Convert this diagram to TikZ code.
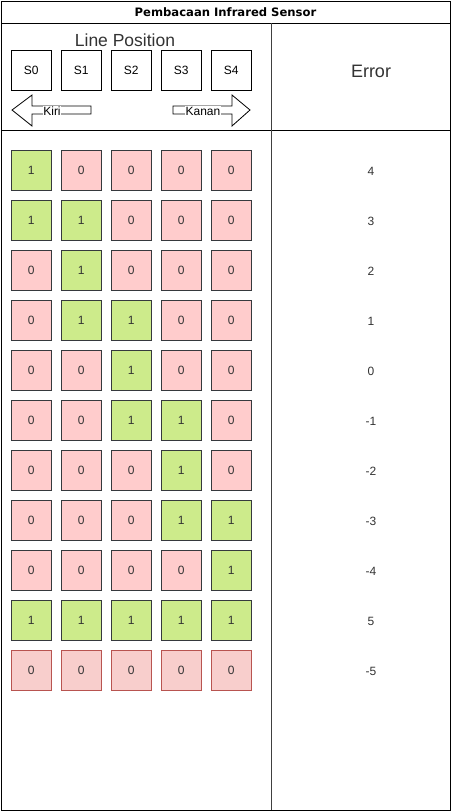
\documentclass[tikz,border=0pt]{standalone}
\usepackage{fontspec}
\setmainfont{Liberation Sans}
\newfontfamily\titlefont{DejaVu Sans}
\definecolor{gfill}{HTML}{CDEB8B}
\definecolor{rfill}{HTML}{FFCCCC}
\definecolor{bdark}{HTML}{36393D}
\definecolor{lfill}{HTML}{F8CECC}
\definecolor{lborder}{HTML}{B85450}
\definecolor{txt}{HTML}{333333}
\begin{document}
\begin{tikzpicture}[x=1pt,y=-1pt,
  cell/.style={draw=bdark,minimum width=40pt,minimum height=40pt,inner sep=0pt,font=\fontsize{12}{14}\selectfont,text=txt,anchor=north west},
  on/.style={cell,fill=gfill},
  off/.style={cell,fill=rfill},
  last/.style={cell,fill=lfill,draw=lborder},
  sens/.style={draw=black,fill=white,minimum width=40pt,minimum height=40pt,inner sep=0pt,font=\fontsize{12}{14}\selectfont,anchor=north west},
  errlbl/.style={font=\fontsize{12}{14}\selectfont,text=txt},
  arrowshape/.style={draw=black,fill=white,line width=0.8pt},
  arrlbl/.style={fill=white,inner sep=0.5pt,font=\fontsize{12}{14}\selectfont}]
\useasboundingbox (0,0) rectangle (452,812);
\fill[white] (0,0) rectangle (452,812);
% outer frame
\draw[line width=1pt] (1,1) rectangle (450,810);
\draw[line width=1pt] (1,23) -- (450,23);
\draw[line width=1pt] (1,130) -- (450,130);
\draw[line width=1pt,draw=black!75] (271,23) -- (271,810);
\node[font=\titlefont\bfseries\fontsize{11.6}{13}\selectfont] (title) at (225.5,12) {Pembacaan Infrared Sensor};
% header
\node[font=\fontsize{17.5}{20}\selectfont,text=txt] (linepos) at (125,40) {Line Position};
\node[font=\fontsize{18}{21}\selectfont,text=txt] (err) at (371,71) {Error};
\foreach \i in {0,...,4}{
  \node[sens] (s\i) at (11+50*\i,50) {S\i};
}
% arrows
\draw[arrowshape] (12,110) -- (32,95) -- (32,106) -- (91,106) -- (91,114) -- (32,114) -- (32,126) -- cycle;
\node[arrlbl] (kiri) at (52,111) {Kiri};
\draw[arrowshape] (250,110) -- (232,95) -- (232,106) -- (173,106) -- (173,114) -- (232,114) -- (232,126) -- cycle;
\node[arrlbl] (kanan) at (203,111) {Kanan};
% rows
\def\rowdata{{1,0,0,0,0},{1,1,0,0,0},{0,1,0,0,0},{0,1,1,0,0},{0,0,1,0,0},{0,0,1,1,0},{0,0,0,1,0},{0,0,0,1,1},{0,0,0,0,1},{1,1,1,1,1}}
\foreach \r/\v in {0/4,1/3,2/2,3/1,4/0,5/-1,6/-2,7/-3,8/-4,9/5}{
  \foreach \c in {0,...,4}{
    \pgfmathtruncatemacro{\bit}{{\rowdata}[\r][\c]}
    \ifnum\bit=1
      \node[on] (c\r\c) at (11+50*\c,150+50*\r) {1};
    \else
      \node[off] (c\r\c) at (11+50*\c,150+50*\r) {0};
    \fi
  }
  \node[errlbl] (e\r) at (371,171+50*\r) {\v};
}
\foreach \c in {0,...,4}{
  \node[last] (c10\c) at (11+50*\c,650) {0};
}
\node[errlbl] (e10) at (371,671) {-5};
\end{tikzpicture}
\end{document}
